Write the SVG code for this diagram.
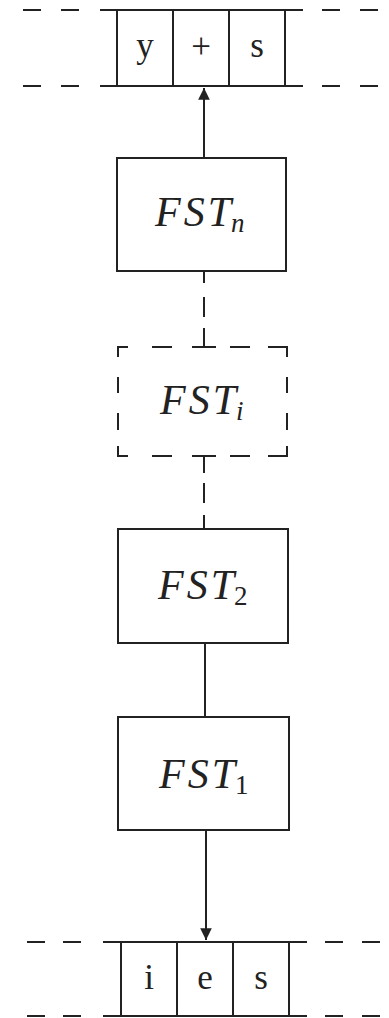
<svg xmlns="http://www.w3.org/2000/svg" width="389" height="1018" viewBox="0 0 389 1018">
<style>
.ln{stroke:#222;stroke-width:2;fill:none}
.bx{stroke:#222;stroke-width:2;fill:#fff}
.fst{font-family:"Liberation Serif",serif;font-style:italic;font-size:42px;fill:#222}
.sp{letter-spacing:3px}
.sub{font-size:27px}
.subu{font-size:27px;font-style:normal}
.tp{font-family:"Liberation Serif",serif;font-size:35px;fill:#222;text-anchor:middle}
</style>
<defs>
<marker id="ah" viewBox="0 0 10 12" refX="10" refY="6" markerWidth="6" markerHeight="7" orient="auto">
<path d="M0,1 L10,6 L0,11 z" fill="#222"/>
</marker>
</defs>
<rect width="389" height="1018" fill="#fff"/>
<g id="tape-top">
<path class="ln" d="M23,10H41M61,10H79M100,10H303M322,10H340M360,10H378M23,86H41M61,86H79M100,86H303M322,86H340M360,86H378M117,10V86M173,10V86M229,10V86M285,10V86"/>
<text class="tp" x="145" y="57">y</text>
<text class="tp" x="201" y="58">+</text>
<text class="tp" x="257" y="57">s</text>
</g>
<g id="tape-bottom">
<path class="ln" d="M27,942H45M63,942H81M103,942H307M325,942H343M362,942H380M27,1016H45M63,1016H81M103,1016H307M325,1016H343M362,1016H380M121,942V1016M177,942V1016M233,942V1016M289,942V1016"/>
<text class="tp" x="149" y="989">i</text>
<text class="tp" x="205" y="989">e</text>
<text class="tp" x="261" y="989">s</text>
</g>
<g id="connectors">
<path class="ln" d="M204,157V88" marker-end="url(#ah)"/>
<path class="ln" d="M204,271V283M204,297V317M204,328V347"/>
<path class="ln" d="M204,456V473M204,483V503M204,515V529"/>
<path class="ln" d="M205,643V717"/>
<path class="ln" d="M206,830V940" marker-end="url(#ah)"/>
</g>
<g id="fst-n">
<rect class="bx" x="117" y="158" width="169" height="113"/>
<text class="fst" x="155" y="226"><tspan class="sp">FS</tspan>T<tspan class="sub" dy="6">n</tspan></text>
</g>
<g id="fst-i">
<path class="ln" d="M118,357V347H128M152,347H172M192,347H216M230,347H250M268,347H287V357M118,377V393M118,413V430M287,377V393M287,413V430M118,446V456H128M152,456H172M192,456H216M230,456H250M268,456H287V446"/>
<text class="fst" x="160" y="414"><tspan class="sp">FS</tspan>T<tspan class="sub" dy="6">i</tspan></text>
</g>
<g id="fst-2">
<rect class="bx" x="118" y="529" width="170" height="114"/>
<text class="fst" x="158" y="599"><tspan class="sp">FS</tspan>T<tspan class="subu" dy="6">2</tspan></text>
</g>
<g id="fst-1">
<rect class="bx" x="118" y="717" width="171" height="113"/>
<text class="fst" x="159" y="788"><tspan class="sp">FS</tspan>T<tspan class="subu" dy="6">1</tspan></text>
</g>
</svg>
